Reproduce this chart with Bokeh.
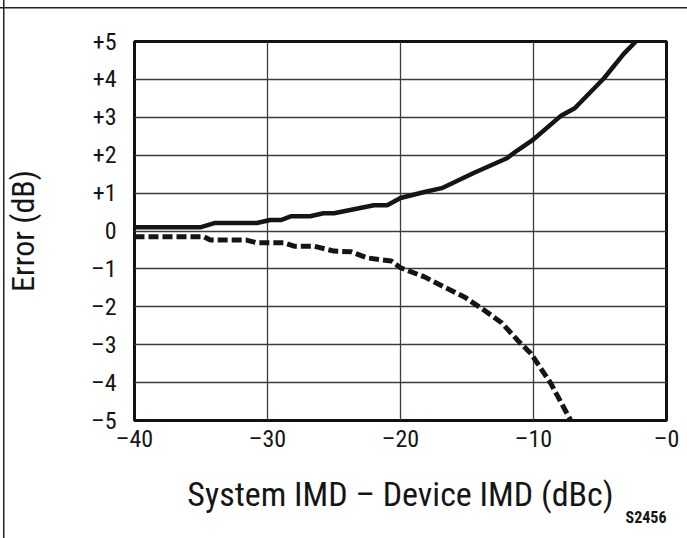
from bokeh.plotting import figure
from bokeh.models import Range1d, Title, FixedTicker
from bokeh.embed import file_html
from bokeh.resources import INLINE

# Data
solid_x = [-40, -35.0, -34.0, -30.8, -29.8, -29.0, -28.2, -26.8, -25.8, -25.0, -22.0, -21.0,
           -20.0, -18.2, -16.9, -14.5, -12.0, -11.2, -10.1, -7.9, -6.9, -4.7, -3.2, -2.3]
solid_y = [0.10, 0.10, 0.21, 0.21, 0.29, 0.29, 0.39, 0.39, 0.47, 0.47, 0.68, 0.68,
           0.87, 1.03, 1.13, 1.53, 1.92, 2.13, 2.39, 3.05, 3.24, 4.03, 4.68, 5.0]

dash_x = [-40, -34.8, -34.3, -31.6, -30.8, -28.8, -28.0, -26.5, -25.0, -23.7, -22.5, -20.7,
          -20.0, -18.2, -16.7, -15.2, -13.7, -12.4, -11.2, -10.2, -8.7, -7.2]
dash_y = [-0.15, -0.15, -0.24, -0.24, -0.31, -0.31, -0.40, -0.40, -0.53, -0.55, -0.71, -0.79,
          -0.97, -1.21, -1.48, -1.74, -2.09, -2.42, -2.88, -3.23, -4.02, -5.0]

x_ticks = [-40, -30, -20, -10, 0]
x_tick_labels = ["\u201340", "\u201330", "\u201320", "\u201310", "\u20130"]
y_ticks = [5, 4, 3, 2, 1, 0, -1, -2, -3, -4, -5]
y_tick_labels = ["+5", "+4", "+3", "+2", "+1", "0", "\u20131", "\u20132", "\u20133", "\u20134", "\u20135"]

x_title = "System IMD \u2013 Device IMD (dBc)"
y_title = "Error (dB)"
figure_id = "S2456"

FONT = "'Roboto Condensed', 'Liberation Sans Narrow', 'Liberation Sans', sans-serif"
INK = "#151515"

p = figure(frame_width=532, frame_height=379,
           min_border_left=131, min_border_right=24, min_border_top=41, min_border_bottom=118,
           x_range=Range1d(-40, 0), y_range=Range1d(-5, 5),
           output_backend="svg", toolbar_location=None)

p.background_fill_color = "white"
p.border_fill_color = None
p.styles = {
    "background": "linear-gradient(#222222, #222222) 3px 0px / 1.5px 100% no-repeat, "
                  "linear-gradient(#222222, #222222) 0px 7px / 100% 1.5px no-repeat, white",
}
p.outline_line_color = "#111111"
p.outline_line_width = 3

p.xaxis.ticker = FixedTicker(ticks=x_ticks)
p.yaxis.ticker = FixedTicker(ticks=y_ticks)
p.xaxis.major_label_overrides = dict(zip(x_ticks, x_tick_labels))
p.yaxis.major_label_overrides = dict(zip(y_ticks, y_tick_labels))

for ax in (p.xaxis, p.yaxis):
    ax.axis_line_color = None
    ax.major_tick_line_color = None
    ax.minor_tick_line_color = None
    ax.major_label_text_font = FONT
    ax.major_label_text_font_size = "24px"
    ax.major_label_text_color = INK
    ax.axis_label_text_font = FONT
    ax.axis_label_text_font_style = "normal"
    ax.axis_label_text_color = INK

p.xaxis.axis_label = x_title
p.yaxis.axis_label = y_title
p.xaxis.axis_label_text_font_size = "34px"
p.yaxis.axis_label_text_font_size = "32px"
p.xaxis.major_label_standoff = -2
p.yaxis.major_label_standoff = 12
p.xaxis.axis_label_standoff = 18
p.yaxis.axis_label_standoff = 46

p.xgrid.grid_line_color = "#3c3c3c"
p.ygrid.grid_line_color = "#3c3c3c"
p.xgrid.grid_line_width = 1.3
p.ygrid.grid_line_width = 1.3

p.line(solid_x, solid_y, line_color=INK, line_width=4.5)
p.line(dash_x, dash_y, line_color=INK, line_width=5, line_dash="10 4")

p.add_layout(Title(text=figure_id, align="right", text_font=FONT, text_font_size="16px",
                   text_font_style="bold", text_color=INK, standoff=-21), "below")

open("out.html", "w").write(file_html(p, INLINE))
